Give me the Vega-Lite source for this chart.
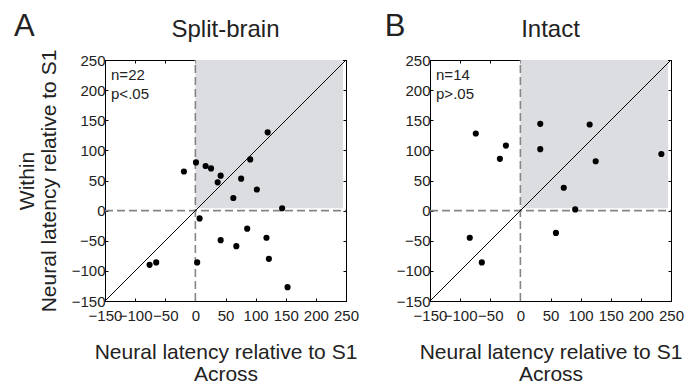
{
  "$schema": "https://vega.github.io/schema/vega-lite/v6.json",
  "background": "white",
  "padding": {"left": 13, "top": 10, "right": 5, "bottom": 0},
  "bounds": "flush",
  "spacing": 84,
  "datasets": {
    "shade": [{"x": 0, "x2": 245, "y": 4, "y2": 250}],
    "vline": [{"x": 0, "y": -150, "y2": 250}],
    "hline": [{"x": -150, "x2": 250, "y": 0}],
    "diag": [{"x": -150, "y": -150, "x2": 250, "y2": 250}],
    "split": [
      {"across": -19, "within": 65},
      {"across": 1, "within": 80},
      {"across": 17, "within": 74},
      {"across": 26, "within": 70},
      {"across": 42, "within": 58},
      {"across": 37, "within": 47},
      {"across": 91, "within": 85},
      {"across": 120, "within": 130},
      {"across": 76, "within": 53},
      {"across": 102, "within": 35},
      {"across": 63, "within": 21},
      {"across": 144, "within": 4},
      {"across": 7, "within": -13},
      {"across": 42, "within": -49},
      {"across": 68, "within": -59},
      {"across": 86, "within": -30},
      {"across": 118, "within": -45},
      {"across": 122, "within": -80},
      {"across": 153, "within": -127},
      {"across": 3, "within": -86},
      {"across": -76, "within": -90},
      {"across": -65, "within": -86}
    ],
    "intact": [
      {"across": -74, "within": 128},
      {"across": -24, "within": 108},
      {"across": -34, "within": 86},
      {"across": 33, "within": 144},
      {"across": 33, "within": 102},
      {"across": 115, "within": 143},
      {"across": 125, "within": 82},
      {"across": 234, "within": 94},
      {"across": 72, "within": 38},
      {"across": 91, "within": 2},
      {"across": 59, "within": -37},
      {"across": -84, "within": -45},
      {"across": -64, "within": -86}
    ],
    "statsA": [{"x": -140, "y": 216, "t": "n=22"}, {"x": -140, "y": 186, "t": "p<.05"}],
    "statsB": [{"x": -140, "y": 216, "t": "n=14"}, {"x": -140, "y": 186, "t": "p>.05"}],
    "letterA": [{"x": -284, "y": 290, "t": "A"}],
    "letterB": [{"x": -208, "y": 290, "t": "B"}],
    "titleA": [{"x": 50, "y": 288, "t": "Split-brain"}],
    "titleB": [{"x": 50, "y": 288, "t": "Intact"}]
  },
  "hconcat": [
    {
      "width": 241,
      "height": 241,
      "resolve": {"axis": {"x": "independent", "y": "independent"}},
      "layer": [
        {
          "data": {"name": "shade"},
          "mark": {"type": "rect", "color": "#dcdde0"},
          "encoding": {
            "x": {"field": "x", "type": "quantitative", "scale": {"domain": [-150, 250], "nice": false, "zero": false},
              "axis": {"orient": "bottom", "values": [-150, -100, -50, 0, 50, 100, 150, 200, 250], "title": ["Neural latency relative to S1", "Across"], "titleLineHeight": 22, "titlePadding": 18, "labelPadding": 10}},
            "x2": {"field": "x2"},
            "y": {"field": "y", "type": "quantitative", "scale": {"domain": [-150, 250], "nice": false, "zero": false},
              "axis": {"orient": "left", "values": [-150, -100, -50, 0, 50, 100, 150, 200, 250], "title": ["Within", "Neural latency relative to S1"], "titleLineHeight": 22, "titlePadding": 12}},
            "y2": {"field": "y2"}
          }
        },
        {
          "data": {"name": "shade"},
          "mark": {"type": "point", "opacity": 0},
          "encoding": {
            "x": {"field": "x", "type": "quantitative", "axis": {"orient": "top", "values": [-150, -100, -50, 0, 50, 100, 150, 200, 250], "labels": false, "title": null}},
            "y": {"field": "y", "type": "quantitative", "axis": {"orient": "right", "values": [-150, -100, -50, 0, 50, 100, 150, 200, 250], "labels": false, "title": null}}
          }
        },
        {
          "data": {"name": "vline"},
          "mark": {"type": "rule", "color": "#858585", "strokeWidth": 1.6, "strokeDash": [8, 4]},
          "encoding": {
            "x": {"field": "x", "type": "quantitative", "axis": null},
            "y": {"field": "y", "type": "quantitative", "axis": null},
            "y2": {"field": "y2"}
          }
        },
        {
          "data": {"name": "hline"},
          "mark": {"type": "rule", "color": "#858585", "strokeWidth": 1.6, "strokeDash": [8, 4]},
          "encoding": {
            "x": {"field": "x", "type": "quantitative", "axis": null},
            "x2": {"field": "x2"},
            "y": {"field": "y", "type": "quantitative", "axis": null}
          }
        },
        {
          "data": {"name": "diag"},
          "mark": {"type": "rule", "color": "black", "strokeWidth": 1},
          "encoding": {
            "x": {"field": "x", "type": "quantitative", "axis": null},
            "x2": {"field": "x2"},
            "y": {"field": "y", "type": "quantitative", "axis": null},
            "y2": {"field": "y2"}
          }
        },
        {
          "data": {"name": "split"},
          "mark": {"type": "circle", "color": "black", "size": 38, "opacity": 1},
          "encoding": {
            "x": {"field": "across", "type": "quantitative", "axis": null},
            "y": {"field": "within", "type": "quantitative", "axis": null}
          }
        },
        {
          "data": {"name": "statsA"},
          "mark": {"type": "text", "align": "left", "baseline": "alphabetic", "fontSize": 15, "color": "#222"},
          "encoding": {
            "x": {"field": "x", "type": "quantitative", "axis": null},
            "y": {"field": "y", "type": "quantitative", "axis": null},
            "text": {"field": "t"}
          }
        },
        {
          "data": {"name": "letterA"},
          "mark": {"type": "text", "align": "center", "baseline": "alphabetic", "fontSize": 31, "color": "#222"},
          "encoding": {
            "x": {"field": "x", "type": "quantitative", "axis": null},
            "y": {"field": "y", "type": "quantitative", "axis": null},
            "text": {"field": "t"}
          }
        },
        {
          "data": {"name": "titleA"},
          "mark": {"type": "text", "align": "center", "baseline": "alphabetic", "fontSize": 24, "color": "#222"},
          "encoding": {
            "x": {"field": "x", "type": "quantitative", "axis": null},
            "y": {"field": "y", "type": "quantitative", "axis": null},
            "text": {"field": "t"}
          }
        }
      ]
    },
    {
      "width": 241,
      "height": 241,
      "resolve": {"axis": {"x": "independent", "y": "independent"}},
      "layer": [
        {
          "data": {"name": "shade"},
          "mark": {"type": "rect", "color": "#dcdde0"},
          "encoding": {
            "x": {"field": "x", "type": "quantitative", "scale": {"domain": [-150, 250], "nice": false, "zero": false},
              "axis": {"orient": "bottom", "values": [-150, -100, -50, 0, 50, 100, 150, 200, 250], "title": ["Neural latency relative to S1", "Across"], "titleLineHeight": 22, "titlePadding": 18, "labelPadding": 10}},
            "x2": {"field": "x2"},
            "y": {"field": "y", "type": "quantitative", "scale": {"domain": [-150, 250], "nice": false, "zero": false},
              "axis": {"orient": "left", "values": [-150, -100, -50, 0, 50, 100, 150, 200, 250], "title": null}},
            "y2": {"field": "y2"}
          }
        },
        {
          "data": {"name": "shade"},
          "mark": {"type": "point", "opacity": 0},
          "encoding": {
            "x": {"field": "x", "type": "quantitative", "axis": {"orient": "top", "values": [-150, -100, -50, 0, 50, 100, 150, 200, 250], "labels": false, "title": null}},
            "y": {"field": "y", "type": "quantitative", "axis": {"orient": "right", "values": [-150, -100, -50, 0, 50, 100, 150, 200, 250], "labels": false, "title": null}}
          }
        },
        {
          "data": {"name": "vline"},
          "mark": {"type": "rule", "color": "#858585", "strokeWidth": 1.6, "strokeDash": [8, 4]},
          "encoding": {
            "x": {"field": "x", "type": "quantitative", "axis": null},
            "y": {"field": "y", "type": "quantitative", "axis": null},
            "y2": {"field": "y2"}
          }
        },
        {
          "data": {"name": "hline"},
          "mark": {"type": "rule", "color": "#858585", "strokeWidth": 1.6, "strokeDash": [8, 4]},
          "encoding": {
            "x": {"field": "x", "type": "quantitative", "axis": null},
            "x2": {"field": "x2"},
            "y": {"field": "y", "type": "quantitative", "axis": null}
          }
        },
        {
          "data": {"name": "diag"},
          "mark": {"type": "rule", "color": "black", "strokeWidth": 1},
          "encoding": {
            "x": {"field": "x", "type": "quantitative", "axis": null},
            "x2": {"field": "x2"},
            "y": {"field": "y", "type": "quantitative", "axis": null},
            "y2": {"field": "y2"}
          }
        },
        {
          "data": {"name": "intact"},
          "mark": {"type": "circle", "color": "black", "size": 38, "opacity": 1},
          "encoding": {
            "x": {"field": "across", "type": "quantitative", "axis": null},
            "y": {"field": "within", "type": "quantitative", "axis": null}
          }
        },
        {
          "data": {"name": "statsB"},
          "mark": {"type": "text", "align": "left", "baseline": "alphabetic", "fontSize": 15, "color": "#222"},
          "encoding": {
            "x": {"field": "x", "type": "quantitative", "axis": null},
            "y": {"field": "y", "type": "quantitative", "axis": null},
            "text": {"field": "t"}
          }
        },
        {
          "data": {"name": "letterB"},
          "mark": {"type": "text", "align": "center", "baseline": "alphabetic", "fontSize": 31, "color": "#222"},
          "encoding": {
            "x": {"field": "x", "type": "quantitative", "axis": null},
            "y": {"field": "y", "type": "quantitative", "axis": null},
            "text": {"field": "t"}
          }
        },
        {
          "data": {"name": "titleB"},
          "mark": {"type": "text", "align": "center", "baseline": "alphabetic", "fontSize": 24, "color": "#222"},
          "encoding": {
            "x": {"field": "x", "type": "quantitative", "axis": null},
            "y": {"field": "y", "type": "quantitative", "axis": null},
            "text": {"field": "t"}
          }
        }
      ]
    }
  ],
  "config": {
    "font": "Liberation Sans",
    "view": {"stroke": "black", "strokeWidth": 1},
    "axis": {
      "grid": false,
      "domainColor": "black",
      "tickColor": "black",
      "tickSize": -3,
      "labelColor": "#222",
      "titleColor": "#222",
      "labelFontSize": 15,
      "titleFontSize": 21,
      "titleFontWeight": "normal",
      "labelOverlap": false,
      "labelFlush": false,
      "labelPadding": 3
    }
  }
}
